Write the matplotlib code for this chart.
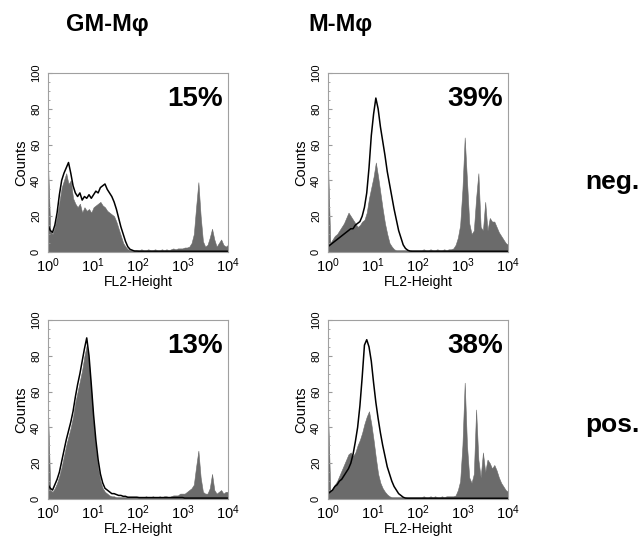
import numpy as np
from matplotlib import pyplot as plt

plt.rcParams['font.family'] = ['Liberation Sans', 'DejaVu Sans']
plt.rcParams['mathtext.fontset'] = 'custom'
plt.rcParams['mathtext.rm'] = 'Liberation Sans'
plt.rcParams['mathtext.it'] = 'Liberation Sans'
plt.rcParams['mathtext.bf'] = 'Liberation Sans:bold'

# 80 channels, log-spaced from 10^0 to 10^4
columns = ["GM-M\u03c6", "M-M\u03c6"]
rows = ["neg.", "pos."]
percents = [["15%", "39%"], ["13%", "38%"]]

# GM-Mphi, neg.
gray_gm_neg = [50, 12, 10, 14, 20, 28, 36, 40, 44, 38, 40, 30, 27, 25, 27, 22, 25, 23, 24, 22,
               25, 26, 27, 28, 26, 25, 23, 22, 21, 20, 17, 13, 9, 5, 3, 1.5, 1, 1, 1, 1,
               1, 1.5, 1, 1, 1.5, 1, 1, 1.5, 1, 1, 1.5, 1, 1.5, 1, 1.5, 2, 1.5, 2, 2, 2,
               2.5, 2.5, 3, 5, 10, 25, 39, 20, 6, 3, 4, 8, 13, 7, 3, 5, 7, 4, 3, 4]
black_gm_neg = [15, 12, 11, 15, 22, 32, 40, 44, 47, 50, 44, 37, 33, 31, 33, 29, 31, 30, 32, 30,
                32, 34, 33, 36, 37, 38, 35, 33, 31, 28, 24, 19, 14, 10, 6, 3, 1.5, 1, 0.5, 0.5] + [0.4] * 40

# M-Mphi, neg.
gray_m_neg = [50, 5, 7, 9, 10, 12, 14, 16, 19, 22, 20, 18, 16, 14, 15, 17, 18, 22, 30, 36,
              42, 50, 42, 33, 24, 16, 10, 5, 3, 1.5, 1, 1, 1, 1, 1, 1, 1, 1, 1, 1,
              1, 1, 1.5, 1, 1, 1.5, 1, 1, 1.5, 1, 1, 1.5, 1, 1.5, 1.5, 2, 4, 8, 15, 35,
              64, 40, 16, 10, 12, 30, 44, 14, 12, 28, 12, 19, 17, 17, 14, 11, 9, 7, 5, 4]
black_m_neg = [3, 4, 5, 6, 7, 8, 9, 10, 11, 12, 13, 13, 15, 16, 17, 20, 25, 33, 47, 65,
               77, 86, 80, 70, 62, 54, 45, 38, 31, 24, 18, 12, 8, 4, 2, 1, 0.5, 0.4, 0.4, 0.4] + [0.4] * 40

# GM-Mphi, pos.
gray_gm_pos = [50, 5, 4, 6, 9, 13, 18, 24, 30, 35, 40, 46, 54, 60, 66, 72, 80, 86, 76, 60,
               42, 28, 17, 10, 6, 4, 3, 2, 1.5, 1.5, 1, 1, 1, 1, 1, 1, 1, 1, 1, 1,
               1, 1, 1, 1.5, 1, 1, 1.5, 1, 1, 1.5, 1, 1.5, 1.5, 1, 1.5, 2, 2, 2, 3, 3,
               3, 4, 5, 6, 8, 18, 27, 12, 4, 3, 3, 6, 14, 5, 3, 4, 5, 3, 4, 4]
black_gm_pos = [8, 6, 5, 8, 11, 15, 21, 27, 33, 38, 43, 49, 57, 64, 70, 77, 84, 90, 80, 64,
                47, 33, 22, 14, 9, 6, 5, 4, 3, 3, 2.5, 2, 2, 1.5, 1.5, 1, 1, 1, 1, 1] + [0.8] * 20 + [0.5] * 20

# M-Mphi, pos.
gray_m_pos = [50, 4, 6, 8, 10, 13, 16, 19, 22, 25, 26, 24, 26, 30, 33, 37, 42, 46, 49, 42,
              33, 23, 14, 9, 6, 4, 2.5, 1.5, 1, 1, 1, 1, 1, 1, 1, 1, 1, 1, 1, 1,
              1, 1, 1.5, 1, 1, 1.5, 1, 1.5, 1, 1, 1.5, 1, 1.5, 1.5, 1.5, 1.5, 2, 5, 10, 30,
              65, 30, 12, 9, 14, 50, 22, 12, 26, 15, 22, 20, 17, 19, 16, 12, 9, 7, 5, 4]
black_m_pos = [3, 4, 5, 7, 8, 10, 11, 13, 15, 17, 20, 25, 32, 40, 52, 68, 86, 89, 85, 77,
               65, 54, 45, 37, 30, 24, 18, 14, 10, 7, 5, 3, 2, 1, 0.5, 0.4, 0.4, 0.4, 0.4, 0.4] + [0.4] * 40

grays = [[gray_gm_neg, gray_m_neg], [gray_gm_pos, gray_m_pos]]
blacks = [[black_gm_neg, black_m_neg], [black_gm_pos, black_m_pos]]

channels = 10 ** np.linspace(0, 4, 80)

fig = plt.figure(figsize=(6.42, 5.36), dpi=100)

lefts = [48 / 642, 328 / 642]
bottoms = [(536 - 252) / 536, (536 - 499) / 536]
w = 180 / 642
h = 179 / 536

for r in range(2):
    for c in range(2):
        ax = fig.add_axes([lefts[c], bottoms[r], w, h])
        ax.fill_between(channels, 0, grays[r][c], facecolor='#6b6b6b', edgecolor='#6b6b6b', lw=0.4)
        ax.plot(channels, blacks[r][c], color='black', lw=1.1)
        ax.set_xscale('log')
        ax.set_xlim(1, 1e4)
        ax.set_ylim(0, 100)
        ax.set_yticks([0, 20, 40, 60, 80, 100])
        ax.set_yticks(np.arange(0, 101, 5), minor=True)
        ax.set_xticks([1, 10, 100, 1000, 10000])
        ax.tick_params(axis='y', labelsize=8, labelrotation=90, direction='in',
                       length=3, color='#999999', pad=5)
        ax.tick_params(axis='y', which='minor', direction='in', length=1.5, color='#999999')
        ax.tick_params(axis='x', labelsize=10.5, direction='in', length=0, pad=3)
        ax.tick_params(axis='x', which='minor', length=0)
        for lab in ax.get_yticklabels():
            lab.set_va('center')
        for s in ax.spines.values():
            s.set_color('#a0a0a0')
            s.set_linewidth(0.8)
        ax.set_xlabel("FL2-Height", fontsize=10, labelpad=0)
        ax.set_ylabel("Counts", fontsize=10.5, labelpad=2)
        ax.text(0.97, 0.93, percents[r][c], transform=ax.transAxes, ha='right', va='top',
                fontsize=20, fontweight='bold')

fig.text(107 / 642, 1 - 25 / 536, columns[0], ha='center', va='center', fontsize=17, fontweight='bold')
fig.text(340 / 642, 1 - 25 / 536, columns[1], ha='center', va='center', fontsize=17, fontweight='bold')
fig.text(612 / 642, 1 - 182 / 536, rows[0], ha='center', va='center', fontsize=19, fontweight='bold')
fig.text(612 / 642, 1 - 425 / 536, rows[1], ha='center', va='center', fontsize=19, fontweight='bold')

plt.savefig("out.png", dpi=100)
